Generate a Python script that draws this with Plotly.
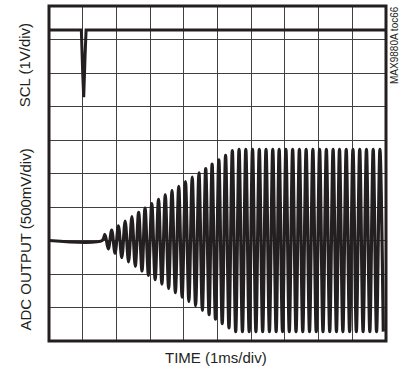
import plotly.graph_objects as go

# scope screen: 10 x 10 divisions, time in ms (1 ms/div), values in divisions
scl_t = [0.0, 0.96, 1.0, 1.03, 1.07, 1.10, 10.0]
scl_v = [9.28, 9.28, 8.0, 7.28, 8.5, 9.28, 9.28]

# ADC output: flat baseline, then the extrema of each cycle of the burst
adc_base_t = [0.0, 1.58]
adc_base_v = [3.0, 3.0]

adc_top_t = [1.66, 1.86, 2.06, 2.26, 2.46, 2.66, 2.85, 3.05, 3.25, 3.45,
             3.65, 3.85, 4.05, 4.25, 4.45, 4.65, 4.84, 5.04, 5.24, 5.44,
             5.64, 5.84, 6.04, 6.24, 6.44, 6.64, 6.83, 7.03, 7.23, 7.43,
             7.63, 7.83, 8.03, 8.23, 8.43, 8.62, 8.82, 9.02, 9.22, 9.42,
             9.62, 9.82]
adc_top_v = [3.18, 3.31, 3.44, 3.58, 3.71, 3.84, 3.97, 4.10, 4.23, 4.36,
             4.49, 4.62, 4.76, 4.89, 5.02, 5.15, 5.28, 5.41, 5.54, 5.68,
             5.72, 5.72, 5.72, 5.72, 5.72, 5.72, 5.72, 5.72, 5.72, 5.72,
             5.72, 5.72, 5.72, 5.72, 5.72, 5.72, 5.72, 5.72, 5.72, 5.72,
             5.72, 5.72]
adc_bot_t = [1.76, 1.96, 2.16, 2.36, 2.56, 2.76, 2.95, 3.15, 3.35, 3.55,
             3.75, 3.95, 4.15, 4.35, 4.55, 4.75, 4.94, 5.14, 5.34, 5.54,
             5.74, 5.94, 6.14, 6.34, 6.54, 6.74, 6.93, 7.13, 7.33, 7.53,
             7.73, 7.93, 8.13, 8.33, 8.53, 8.72, 8.92, 9.12, 9.32, 9.52,
             9.72, 9.92]
adc_bot_v = [2.75, 2.62, 2.49, 2.36, 2.23, 2.09, 1.96, 1.83, 1.70, 1.57,
             1.44, 1.31, 1.18, 1.05, 0.92, 0.79, 0.65, 0.52, 0.39, 0.28,
             0.28, 0.28, 0.28, 0.28, 0.28, 0.28, 0.28, 0.28, 0.28, 0.28,
             0.28, 0.28, 0.28, 0.28, 0.28, 0.28, 0.28, 0.28, 0.28, 0.28,
             0.28, 0.28]

adc_t = list(adc_base_t)
adc_v = list(adc_base_v)
for tt, tv, bt, bv in zip(adc_top_t, adc_top_v, adc_bot_t, adc_bot_v):
    adc_t += [tt, bt]
    adc_v += [tv, bv]

INK = "#231f20"
FONT = "Liberation Sans, Arial, sans-serif"

fig = go.Figure()
fig.add_trace(go.Scatter(x=adc_t, y=adc_v, mode="lines",
                         line=dict(color=INK, width=3.2, shape="spline", smoothing=0.9),
                         hoverinfo="skip"))
fig.add_trace(go.Scatter(x=scl_t, y=scl_v, mode="lines",
                         line=dict(color=INK, width=3),
                         hoverinfo="skip"))

axis = dict(range=[0, 10], dtick=1, showticklabels=False, ticks="",
            showgrid=True, gridcolor="#404040", gridwidth=1,
            zeroline=False, showline=False, fixedrange=True)
fig.update_xaxes(**axis)
fig.update_yaxes(**axis)

fig.add_shape(type="rect", xref="paper", yref="paper", x0=0, y0=0, x1=1, y1=1,
              line=dict(color=INK, width=3))

def label(text, x, y, size=15, angle=0):
    fig.add_annotation(text=text, xref="paper", yref="paper", x=x, y=y,
                       xanchor="center", yanchor="middle", textangle=angle,
                       showarrow=False, font=dict(size=size, color=INK, family=FONT))

label("SCL (1V/div)", -0.07, 0.824, angle=-90)
label("ADC OUTPUT (500mV/div)", -0.07, 0.304, angle=-90)
label("TIME (1ms/div)", 0.496, -0.05)
label("MAX9880A toc66", 1.027, 0.884, size=10, angle=-90)

fig.update_layout(width=400, height=378, showlegend=False,
                  margin=dict(l=49, r=14, t=6, b=37),
                  plot_bgcolor="white", paper_bgcolor="white")

fig.write_html("out.html", config={"displayModeBar": False},
               post_script="document.body.style.margin='0';")
